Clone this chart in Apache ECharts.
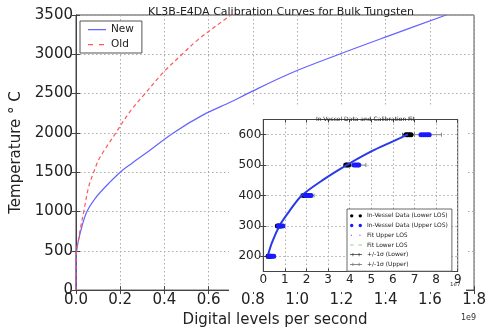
<!DOCTYPE html>
<html><head><meta charset="utf-8">
<script src="https://cdn.jsdelivr.net/npm/echarts@6/dist/echarts.min.js"></script>
<style>html,body{margin:0;padding:0;background:#fff}#c{width:489px;height:333px}</style>
</head><body><div id="c"></div>
<script>
// ---- Main chart data (x in units of 1e9 digital levels per second, y in °C)
const newX = [0, 0.0003, 0.002, 0.009, 0.027, 0.0495, 0.087, 0.132, 0.2, 0.252, 0.32, 0.44, 0.575, 0.702, 0.775, 0.963, 1.19, 1.43, 1.674];
const newT = [0, 396, 480, 604, 812, 1000, 1167, 1312, 1500, 1612, 1750, 2000, 2229, 2396, 2500, 2750, 3000, 3250, 3500];
const oldX = [0, 0.0003, 0.003, 0.009, 0.019, 0.035, 0.057, 0.08, 0.102, 0.126, 0.177, 0.244, 0.312, 0.395, 0.48, 0.552, 0.68, 0.7];
const oldT = [0, 420, 520, 604, 771, 1000, 1312, 1500, 1655, 1770, 1987, 2271, 2500, 2771, 3000, 3187, 3458, 3500];
const mainXTicks = [0, 0.2, 0.4, 0.6, 0.8, 1.0, 1.2, 1.4, 1.6, 1.8];
const mainYTicks = [0, 500, 1000, 1500, 2000, 2500, 3000, 3500];

// ---- Inset data (x in units of 1e7)
const lowerLOSX = [0.22, 0.28, 0.34, 0.65, 0.72, 0.8, 1.85, 1.95, 2.05, 3.82, 3.88, 3.95, 6.6, 6.68, 6.76, 6.84];
const lowerLOST = [200, 200, 200, 300, 300, 300, 400, 400, 400, 500, 500, 500, 600, 600, 600, 600];
const upperLOSX = [0.25, 0.32, 0.4, 0.48, 0.7, 0.8, 0.9, 1.95, 2.05, 2.15, 2.2, 4.2, 4.28, 4.36, 4.42, 7.3, 7.4, 7.5, 7.6, 7.68];
const upperLOST = [200, 200, 200, 200, 300, 300, 300, 400, 400, 400, 400, 500, 500, 500, 500, 600, 600, 600, 600, 600];
const fitX = [0.18, 0.4, 0.77, 1.2, 1.78, 2.8, 3.86, 5.0, 6.0, 6.7];
const fitT = [195, 245, 303, 348, 400, 453, 500, 545, 578, 601];
const errLowerLo = [0.15, 0.6, 1.75, 3.75, 6.45];
const errLowerHi = [0.45, 0.95, 2.25, 4.05, 7.0];
const errLowerT = [200, 300, 400, 500, 600];
const errUpperLo = [0.2, 0.65, 1.9, 4.05, 7.0];
const errUpperHi = [0.55, 1.0, 2.35, 4.75, 8.25];
const errUpperT = [200, 300, 400, 500, 600];
const insetXTicks = [0, 1, 2, 3, 4, 5, 6, 7, 8, 9];
const insetYTicks = [200, 300, 400, 500, 600];

const zip = (a, b) => a.map((v, i) => [v, b[i]]);
const zip3 = (a, b, c) => a.map((v, i) => [v, b[i], c[i]]);
const FONT = 'DejaVu Sans';

function errRender(color) {
  return function (params, api) {
    const y = api.value(2);
    const p1 = api.coord([api.value(0), y]);
    const p2 = api.coord([api.value(1), y]);
    const st = { stroke: color, lineWidth: 1 };
    return { type: 'group', children: [
      { type: 'line', shape: { x1: p1[0], y1: p1[1], x2: p2[0], y2: p2[1] }, style: st },
      { type: 'line', shape: { x1: p1[0], y1: p1[1] - 2, x2: p1[0], y2: p1[1] + 2 }, style: st },
      { type: 'line', shape: { x1: p2[0], y1: p2[1] - 2, x2: p2[0], y2: p2[1] + 2 }, style: st }
    ]};
  };
}

const gridLine = { show: true, lineStyle: { color: '#aaa', type: [1.5, 2.5], width: 1 } };
const axisLineBlack = { show: true, lineStyle: { color: '#444', width: 1 } };
const tickIn = (len, custom) => Object.assign({ show: true, inside: true, length: len, lineStyle: { color: '#444' } }, custom ? { customValues: custom } : {});

const chart = echarts.init(document.getElementById('c'), null, { renderer: 'canvas' });
chart.setOption({
  animation: false,
  backgroundColor: '#fff',
  textStyle: { fontFamily: FONT },
  title: [
    { text: 'KL3B-E4DA Calibration Curves for Bulk Tungsten', left: 276, top: 2, textAlign: 'center',
      textStyle: { fontFamily: FONT, fontSize: 11, fontWeight: 'normal', color: '#222' } },
    { text: 'In-Vessel Data and Calibration Fit', left: 360.5, top: 111, textAlign: 'center', z: 12,
      textStyle: { fontFamily: FONT, fontSize: 6, fontWeight: 'normal', color: '#222' } }
  ],
  grid: [
    { left: 76, top: 15, width: 400, height: 280, show: true, borderColor: '#444', borderWidth: 1, z: 0 },
    { left: 263.3, top: 119.5, width: 194.4, height: 152, show: true, borderColor: '#444', borderWidth: 1, backgroundColor: '#fff', z: 6 }
  ],
  graphic: { elements: [
    { type: 'rect', z: 5, shape: { x: 229, y: 107, width: 237, height: 185 }, style: { fill: '#fff' } },
    { type: 'text', z: 12, left: 461, top: 314, style: { text: '1e9', fontFamily: FONT, fontSize: 8, fill: '#333' } },
    { type: 'text', z: 12, left: 450, top: 281.5, style: { text: '1e7', fontFamily: FONT, fontSize: 5.5, fill: '#333' } }
  ]},
  legend: [
    { left: 80, top: 21, orient: 'vertical', padding: [3, 8, 3, 8], itemGap: 4,
      itemWidth: 18, itemHeight: 10, borderColor: '#555', borderWidth: 1, backgroundColor: '#fff',
      textStyle: { fontFamily: FONT, fontSize: 10.5, lineHeight: 11, color: '#222' },
      data: [
        { name: 'New', icon: 'path://M0,0h18v1.3h-18zM0,-4h0.01v0.01h-0.01zM0,5h0.01v0.01h-0.01z', itemStyle: { color: '#6464ff' } },
        { name: 'Old', icon: 'path://M0,0h5v1.3h-5zM11,0h5v1.3h-5zM0,-4h0.01v0.01h-0.01zM18,5h0.01v0.01h-0.01z', itemStyle: { color: '#ff5555' } }
      ] },
    { left: 347, top: 209, orient: 'vertical', padding: [3, 4, 3, 3], itemGap: 2, z: 11,
      itemWidth: 12, itemHeight: 5, borderColor: '#444', borderWidth: 0.8, backgroundColor: '#fff',
      textStyle: { fontFamily: FONT, fontSize: 6, lineHeight: 7.7, color: '#222' },
      data: [
        { name: 'In-Vessel Data (Lower LOS)', icon: 'path://M0,2a2,2 0 1,0 4,0a2,2 0 1,0 -4,0M10,2a2,2 0 1,0 4,0a2,2 0 1,0 -4,0', itemStyle: { color: '#000' } },
        { name: 'In-Vessel Data (Upper LOS)', icon: 'path://M0,2a2,2 0 1,0 4,0a2,2 0 1,0 -4,0M10,2a2,2 0 1,0 4,0a2,2 0 1,0 -4,0', itemStyle: { color: '#1a1aff' } },
        { name: 'Fit Upper LOS', icon: 'path://M1,1.5h1.2v1.2h-1.2zM11,1.5h1.2v1.2h-1.2zM0,0h0.01v4h-0.01zM13.99,0h0.01v4h-0.01z', itemStyle: { color: '#3a3aff' } },
        { name: 'Fit Lower LOS', icon: 'path://M0,1.6h4v1h-4zM9,1.6h4v1h-4zM0,0h0.01v4h-0.01zM13,0h0.01v4h-0.01z', itemStyle: { color: '#88dd88' } },
        { name: '+/-1σ (Lower)', icon: 'path://M0,1.6h14v0.8h-14zM3,0h0.8v4h-0.8zM10.2,0h0.8v4h-0.8z', itemStyle: { color: '#333' } },
        { name: '+/-1σ (Upper)', icon: 'path://M0,1.6h14v0.8h-14zM3,0h0.8v4h-0.8zM10.2,0h0.8v4h-0.8z', itemStyle: { color: '#666' } }
      ] }
  ],
  xAxis: [
    { gridIndex: 0, type: 'value', min: mainXTicks[0], max: mainXTicks[mainXTicks.length - 1], interval: 0.2, z: 0,
      axisLine: axisLineBlack, axisTick: tickIn(4),
      axisLabel: { fontFamily: FONT, fontSize: 15, color: '#222', margin: 3, formatter: v => v.toFixed(1) },
      splitLine: gridLine,
      name: 'Digital levels per second', nameLocation: 'middle', nameGap: 16,
      nameTextStyle: { fontFamily: FONT, fontSize: 15, color: '#222' } },
    { gridIndex: 0, type: 'value', position: 'top', min: 0, max: 1.8, interval: 0.2, z: 0,
      axisLine: axisLineBlack, axisTick: tickIn(4), axisLabel: { show: false }, splitLine: { show: false } },
    { gridIndex: 1, type: 'value', min: insetXTicks[0], max: insetXTicks[insetXTicks.length - 1], interval: 1, z: 7,
      axisLine: axisLineBlack, axisTick: tickIn(3),
      axisLabel: { fontFamily: FONT, fontSize: 12, color: '#222', margin: 2 },
      splitLine: gridLine },
    { gridIndex: 1, type: 'value', position: 'top', min: 0, max: 9, interval: 1, z: 7,
      axisLine: axisLineBlack, axisTick: tickIn(3), axisLabel: { show: false }, splitLine: { show: false } }
  ],
  yAxis: [
    { gridIndex: 0, type: 'value', min: mainYTicks[0], max: mainYTicks[mainYTicks.length - 1], interval: 500, z: 0,
      axisLine: axisLineBlack, axisTick: tickIn(4),
      axisLabel: { fontFamily: FONT, fontSize: 15, color: '#222', margin: 3, formatter: v => String(v) },
      splitLine: gridLine,
      name: 'Temperature ° C', nameLocation: 'middle', nameGap: 41, nameRotate: 90,
      nameTextStyle: { fontFamily: FONT, fontSize: 15, color: '#222' } },
    { gridIndex: 0, type: 'value', position: 'right', min: 0, max: 3500, interval: 500, z: 0,
      axisLine: axisLineBlack, axisTick: tickIn(4), axisLabel: { show: false }, splitLine: { show: false } },
    { gridIndex: 1, type: 'value', min: 150, max: 650, z: 7,
      axisLine: axisLineBlack, axisTick: tickIn(3, insetYTicks),
      axisLabel: { fontFamily: FONT, fontSize: 12, color: '#222', margin: 2, customValues: insetYTicks, formatter: v => String(v) },
      splitLine: gridLine },
    { gridIndex: 1, type: 'value', position: 'right', min: 150, max: 650, z: 7,
      axisLine: axisLineBlack, axisTick: tickIn(3, insetYTicks), axisLabel: { show: false }, splitLine: { show: false } }
  ],
  series: [
    { name: 'New', type: 'line', xAxisIndex: 0, yAxisIndex: 0, z: 1, symbol: 'none', smooth: 0.35,
      lineStyle: { color: '#6464ff', width: 1.2 }, itemStyle: { color: '#6464ff' }, data: zip(newX, newT) },
    { name: 'Old', type: 'line', xAxisIndex: 0, yAxisIndex: 0, z: 1, symbol: 'none', smooth: 0.35,
      lineStyle: { color: '#ff5555', width: 1.2, type: [4, 3] }, itemStyle: { color: '#ff5555' }, data: zip(oldX, oldT) },
    { name: '+/-1σ (Lower)', type: 'custom', xAxisIndex: 2, yAxisIndex: 2, z: 8,
      renderItem: errRender('#555'), encode: { x: [0, 1], y: 2 }, itemStyle: { color: '#333' },
      data: zip3(errLowerLo, errLowerHi, errLowerT) },
    { name: '+/-1σ (Upper)', type: 'custom', xAxisIndex: 2, yAxisIndex: 2, z: 8,
      renderItem: errRender('#888'), encode: { x: [0, 1], y: 2 }, itemStyle: { color: '#666' },
      data: zip3(errUpperLo, errUpperHi, errUpperT) },
    { name: 'Fit Lower LOS', type: 'line', xAxisIndex: 2, yAxisIndex: 2, z: 8, symbol: 'none', smooth: 0.3,
      lineStyle: { color: '#88dd88', width: 1, type: 'dashed' }, itemStyle: { color: '#88dd88' }, data: zip(fitX, fitT) },
    { name: 'In-Vessel Data (Lower LOS)', type: 'scatter', xAxisIndex: 2, yAxisIndex: 2, z: 9,
      symbol: 'circle', symbolSize: 5, itemStyle: { color: '#000', opacity: 1 }, data: zip(lowerLOSX, lowerLOST) },
    { name: 'In-Vessel Data (Upper LOS)', type: 'scatter', xAxisIndex: 2, yAxisIndex: 2, z: 10,
      symbol: 'circle', symbolSize: 5, itemStyle: { color: '#1a1aff', opacity: 1 }, data: zip(upperLOSX, upperLOST) },
    { name: 'Fit Upper LOS', type: 'line', xAxisIndex: 2, yAxisIndex: 2, z: 10, symbol: 'none', smooth: 0.3,
      lineStyle: { color: '#2a3ae8', width: 2 }, itemStyle: { color: '#3a3aff' }, data: zip(fitX, fitT) }
  ]
});
</script></body></html>
